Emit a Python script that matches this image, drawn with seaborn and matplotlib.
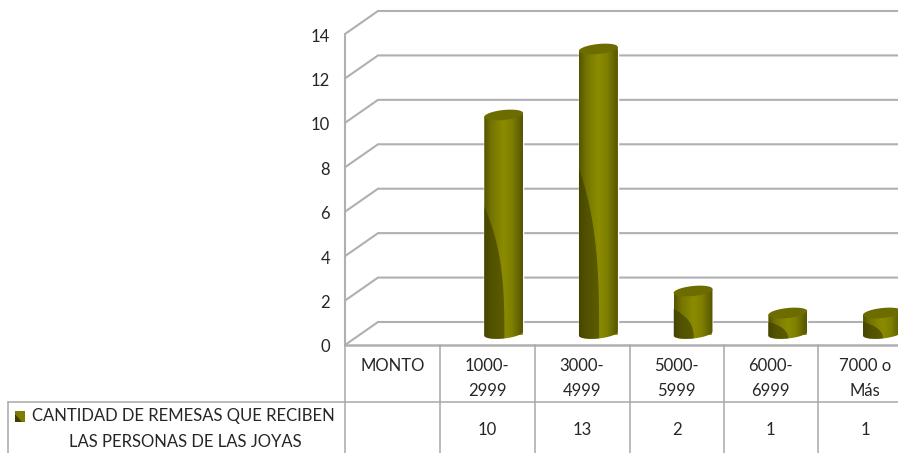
# Recreate the remesas 3D cylinder chart
import numpy as np
import pandas as pd
import matplotlib
matplotlib.use("Agg")
import matplotlib.pyplot as plt
from matplotlib.colors import LinearSegmentedColormap
from matplotlib.patches import PathPatch, Polygon
from matplotlib.path import Path
import seaborn as sns

# Data
first_col = "MONTO"
categories = ["1000-\n2999", "3000-\n4999", "5000-\n5999", "6000-\n6999", "7000 o\nMás"]
remesas = [10, 13, 2, 1, 1]
y_ticks = [0, 2, 4, 6, 8, 10, 12, 14]
legend_lines = ["CANTIDAD DE REMESAS QUE RECIBEN", "LAS PERSONAS DE LAS JOYAS"]

W, H = 898, 453
GRID = "#b0b0b0"
TABLE = "#a8a8a8"
TEXT = "#262626"
FS = 12

sns.set_style("white")
plt.rcParams["font.family"] = ["Lato", "DejaVu Sans"]

fig = plt.figure(figsize=(W / 100, H / 100), dpi=100)

# Pixel layers for walls/table (below) and cylinders (above)
back = fig.add_axes([0, 0, 1, 1], zorder=0)
front = fig.add_axes([0, 0, 1, 1], zorder=2)
for a in (back, front):
    a.set_xlim(0, W)
    a.set_ylim(H, 0)
    a.axis("off")
    a.patch.set_visible(False)

# Bars through seaborn; axes sized so each category is one table column
col_w = 94.7
ax_left = 361.6
zero_y, top_y = 335, 27
ax = fig.add_axes([ax_left / W, (H - zero_y) / H, 6 * col_w / W, (zero_y - top_y) / H], zorder=1)
df = pd.DataFrame({"monto": categories, "remesas": remesas})
sns.barplot(data=df, x="monto", y="remesas", order=[first_col] + categories,
            color="#808000", width=0.41, saturation=1, ax=ax)
ax.set_xlim(-0.5, 5.5)
ax.set_ylim(0, 14)
ax.axis("off")
ax.patch.set_visible(False)

# 3D walls
px_per_unit = 311 / 14
front_zero = 345
dx, dy = 33, -23
for t in y_ticks:
    y = front_zero - t * px_per_unit
    back.plot([345, 345 + dx, W], [y, y + dy, y + dy], color=GRID, lw=1.5, solid_joinstyle="miter")
    back.text(330, y + 2.5, str(t), ha="right", va="center", fontsize=FS, color=TEXT)
back.plot([345, 345], [front_zero - 14 * px_per_unit, front_zero], color=GRID, lw=1.5)
back.plot([345, W], [front_zero, front_zero], color=GRID, lw=1.8)

# Table
col_x = [345, 440, 534.5, 629.5, 723.5, 818]
back.plot([8, W], [401.5, 401.5], color=TABLE, lw=1.1)
back.plot([8, 8], [401.5, H], color=TABLE, lw=1.1)
for x in col_x:
    back.plot([x, x], [front_zero, H], color=TABLE, lw=1.1)
back.text(392.5, 366, first_col, ha="center", va="center", fontsize=FS, color=TEXT)
for i, (cat, val) in enumerate(zip(categories, remesas)):
    cx = col_x[i + 1] + col_w / 2
    top, bottom = cat.split("\n")
    back.text(cx, 366, top, ha="center", va="center", fontsize=FS, color=TEXT)
    back.text(cx, 391, bottom, ha="center", va="center", fontsize=FS, color=TEXT)
    back.text(cx, 430, str(val), ha="center", va="center", fontsize=FS, color=TEXT)
back.text(32, 416, legend_lines[0], ha="left", va="center", fontsize=FS, color=TEXT)
back.text(185, 442, legend_lines[1], ha="center", va="center", fontsize=FS, color=TEXT)
back.add_patch(Polygon([(15, 411), (25, 411), (25, 422), (15, 422)], color="#7c7c00", lw=0))
back.add_patch(Polygon([(15, 414), (22, 422), (15, 422)], color="#3f3f00", lw=0))

# Cylinder shading painted over each seaborn bar
body_cmap = LinearSegmentedColormap.from_list(
    "body", [(0, "#555500"), (0.18, "#747400"), (0.5, "#8c8c00"), (0.72, "#7f7f00"), (1, "#565600")])
shade = np.linspace(0, 1, 64).reshape(1, -1)
b_ell = 5
shear = 0.1
bars = sorted([p for p in ax.patches if p.get_height() > 0], key=lambda p: p.get_x())
for p in bars:
    (l, yb), (r, yt) = ax.transData.transform(
        [(p.get_x(), 0), (p.get_x() + p.get_width(), p.get_height())])
    yb, yt = H - yb - 1.5, H - yt
    a_ell, cx = (r - l) / 2, (r + l) / 2
    t = np.linspace(0, np.pi, 40)
    arc_x = cx - a_ell * np.cos(t)
    arc_y = yb + b_ell * np.sin(t) - shear * (arc_x - cx)
    body = np.vstack([[l, yt + shear * a_ell], np.column_stack([arc_x, arc_y]), [r, yt - shear * a_ell]])
    clip = PathPatch(Path(np.vstack([body, body[0]])), transform=front.transData, fc="none", ec="none")
    front.add_patch(clip)
    im = front.imshow(shade, extent=[l, r, yb + 10, yt - 5], cmap=body_cmap, aspect="auto", zorder=2)
    im.set_clip_path(clip)

    # Dark wedge at the lower left of the cylinder
    h_shadow = 0.58 * (yb - yt)
    s = np.linspace(0, 1, 30)
    edge_x = l + (r - l) * 0.52 * (1 - s ** 3)
    edge_y = yb + 8 - s * (h_shadow + 8)
    wedge = Polygon(np.vstack([[l - 1, yb + 8], np.column_stack([edge_x, edge_y]), [l - 1, edge_y[-1]]]),
                    fc="#3b3b00", ec="none", alpha=0.6, zorder=3)
    front.add_patch(wedge)
    wedge.set_clip_path(clip)

    # Top cap
    t = np.linspace(0, 2 * np.pi, 80)
    cap_x = cx + a_ell * np.cos(t)
    cap_y = yt + b_ell * np.sin(t) - shear * (cap_x - cx)
    front.add_patch(Polygon(np.column_stack([cap_x, cap_y]), fc="#6c6c00", ec="none", zorder=4))

fig.savefig("out.png", dpi=100)
